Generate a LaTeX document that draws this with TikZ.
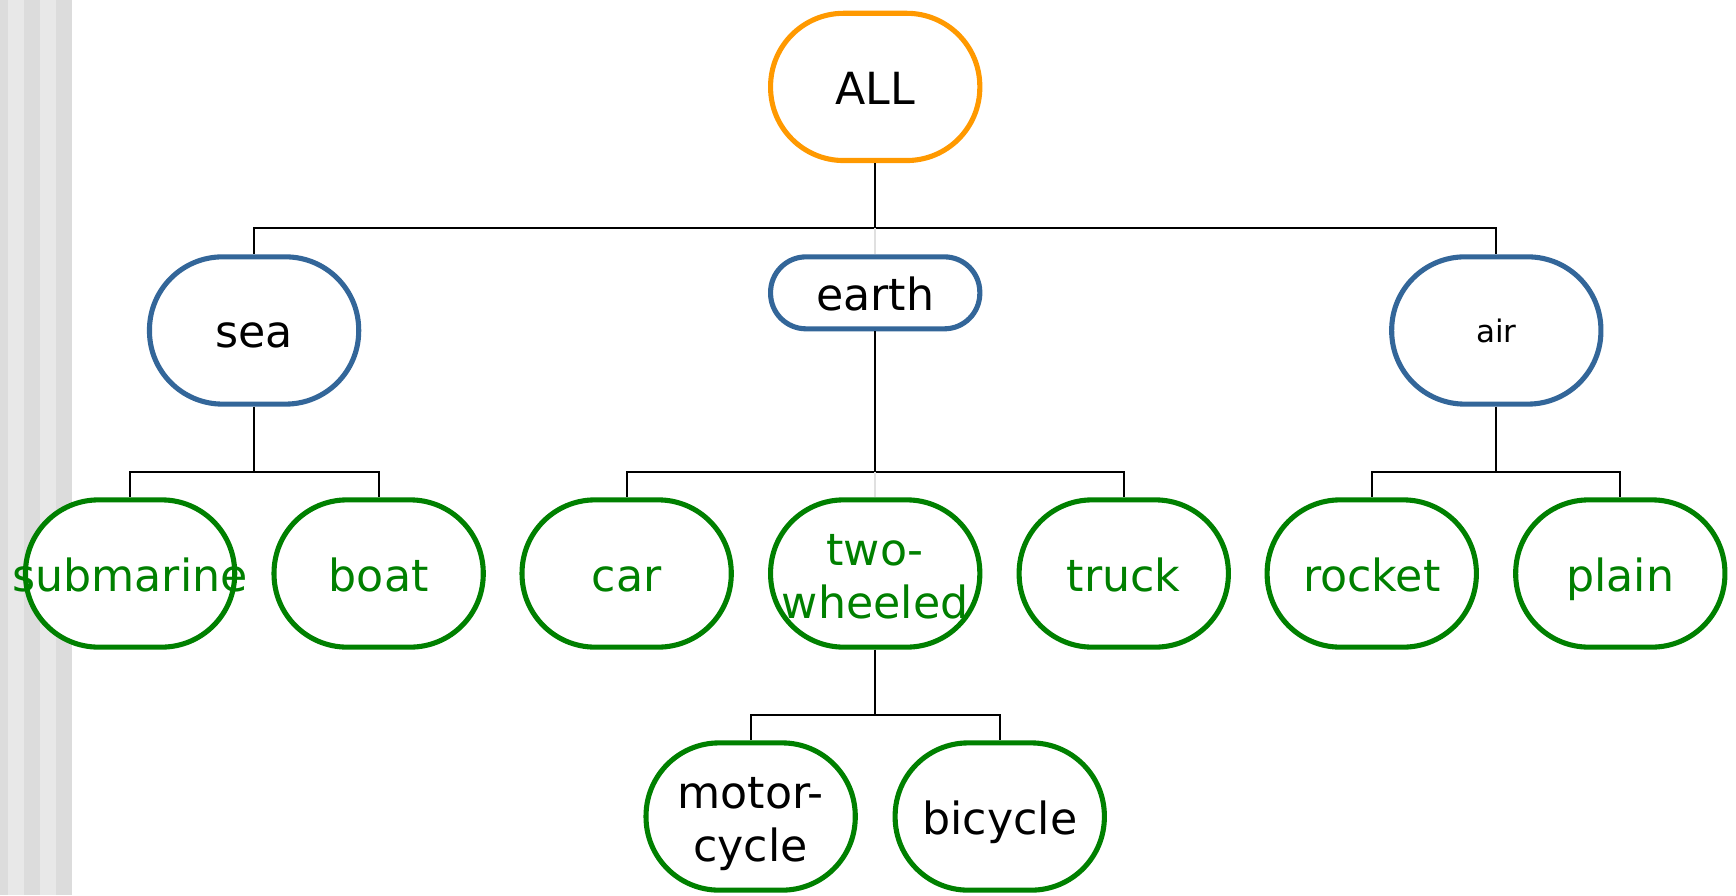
\documentclass[tikz,border=0pt]{standalone}
\usepackage{fontspec}
\setmainfont{DejaVu Sans}
\usetikzlibrary{calc}

\definecolor{rootorange}{HTML}{FF9900}
\definecolor{groupblue}{HTML}{336699}
\definecolor{leafgreen}{HTML}{008000}
\definecolor{stripedark}{HTML}{DCDCDC}
\definecolor{stripelight}{HTML}{E8E8E8}

\tikzset{
    pill/.style={draw, line width=2.3pt, fill=white, rectangle, rounded corners=33pt,
        minimum width=94.5pt, minimum height=66.5pt, inner sep=0pt, align=center,
        font=\fontsize{20}{24}\selectfont, text height=19.8pt, text depth=4pt},
    twolines/.style={text height=44pt, text depth=3.6pt},
    rootpill/.style={pill, draw=rootorange},
    grouppill/.style={pill, draw=groupblue},
    leafpill/.style={pill, draw=leafgreen, text=leafgreen},
    wire/.style={draw=black, line width=0.8pt},
    faintwire/.style={draw=black!12, line width=0.8pt}
}

\begin{document}
\begin{tikzpicture}[x=0.5pt, y=-0.5pt]
    \useasboundingbox (0,0) rectangle (1568,808.4);

    % Draw the gray stripes on the left edge
    \fill[stripedark] (0,0) rectangle (65,808.4);
    \fill[stripelight] (7.2,0) rectangle (21.7,808.4);
    \fill[stripelight] (36.1,0) rectangle (50.6,808.4);

    % Define the heights of the bus lines
    \coordinate (busTop) at (0,206);
    \coordinate (busMid) at (0,426);
    \coordinate (busLow) at (0,646);

    % Root and the three groups
    \node[rootpill] (all) at (790.5,78.5) {ALL};
    \node[grouppill, minimum height=32.5pt, rounded corners=16pt] (earth) at (790.5,264.5) {earth};
    \node[grouppill] (sea) at (229.5,298.5) {sea};
    \node[grouppill, font=\fontsize{14}{17}\selectfont, text height=13.6pt, text depth=2.8pt] (air) at (1351.5,298.5) {air};

    % Leaves of each group
    \node[leafpill] (submarine) at (117.5,518) {\makebox[0pt]{submarine}};
    \node[leafpill] (boat) at (342,518) {boat};
    \node[leafpill] (car) at (566,518) {car};
    \node[leafpill, twolines] (twowheeled) at (790.5,518) {two-\\wheeled};
    \node[leafpill] (truck) at (1015,518) {truck};
    \node[leafpill] (rocket) at (1239,518) {rocket};
    \node[leafpill] (plain) at (1463.5,518) {plain};

    % Two-wheeled splits again
    \node[pill, twolines, draw=leafgreen] (motorcycle) at (678,737.5) {motor-\\cycle};
    \node[pill, draw=leafgreen] (bicycle) at (903,737.5) {bicycle};

    % Draw the tree wires
    \draw[wire] (all.south) -- (all.south |- busTop) -| (sea.north);
    \draw[wire] (all.south |- busTop) -| (air.north);
    \draw[faintwire] (all.south |- busTop) -- (earth.north);

    \draw[wire] (sea.south) -- (sea.south |- busMid) -| (submarine.north);
    \draw[wire] (sea.south |- busMid) -| (boat.north);

    \draw[wire] (earth.south) -- (earth.south |- busMid) -| (car.north);
    \draw[wire] (earth.south |- busMid) -| (truck.north);
    \draw[faintwire] (earth.south |- busMid) -- (twowheeled.north);

    \draw[wire] (air.south) -- (air.south |- busMid) -| (rocket.north);
    \draw[wire] (air.south |- busMid) -| (plain.north);

    \draw[wire] (twowheeled.south) -- (twowheeled.south |- busLow) -| (motorcycle.north);
    \draw[wire] (twowheeled.south |- busLow) -| (bicycle.north);

\end{tikzpicture}
\end{document}
